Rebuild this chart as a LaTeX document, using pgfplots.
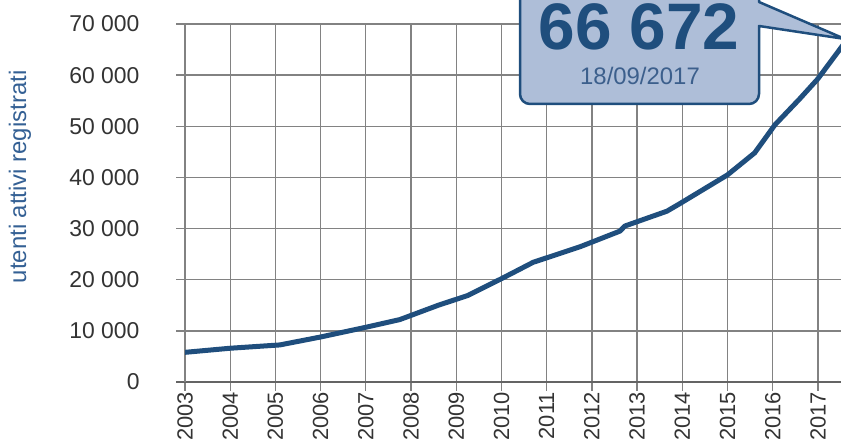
\documentclass[border=0pt]{standalone}
\usepackage{pgfplots}
\pgfplotsset{compat=1.18}
\usepackage{fontspec}
\setmainfont{Liberation Sans}
\definecolor{lineblue}{RGB}{31,78,125}
\definecolor{boxfill}{RGB}{174,190,216}
\definecolor{subblue}{RGB}{60,95,140}
\definecolor{labelblue}{RGB}{52,96,148}
\definecolor{tickgray}{RGB}{51,51,51}
\definecolor{gridgray}{RGB}{130,130,130}
\definecolor{axisgray}{RGB}{100,100,100}
\begin{document}
\begin{tikzpicture}[x=1bp,y=1bp]
\useasboundingbox (0,0) rectangle (841,443);
\clip (0,0) rectangle (841,443);
\begin{axis}[
  at={(185bp,61bp)}, anchor=south west,
  scale only axis, width=656bp, height=358bp,
  xmin=2003, xmax=2017.51, ymin=0, ymax=70000,
  scaled y ticks=false, scaled x ticks=false,
  axis lines=left, axis line style={-},
  x axis line style={line width=2.5bp, color=axisgray, shorten <=-9bp},
  y axis line style={line width=1.3bp, color=gridgray},
  grid=major, major grid style={line width=1.3bp, color=gridgray},
  tick align=outside, major tick length=9bp,
  tick style={line width=1.3bp, color=gridgray},
  xtick={2003,2004,2005,2006,2007,2008,2009,2010,2011,2012,2013,2014,2015,2016,2017},
  xticklabels={2003,2004,2005,2006,2007,2008,2009,2010,2011,2012,2013,2014,2015,2016,2017},
  ytick={0,10000,20000,30000,40000,50000,60000,70000},
  yticklabels={0,10 000,20 000,30 000,40 000,50 000,60 000,70 000},
  ticklabel style={font=\fontsize{23}{25}\selectfont, text=tickgray},
  xticklabel style={rotate=90, anchor=east, inner sep=1bp, font=\fontsize{22}{24}\selectfont},
  yticklabel style={anchor=east, xshift=-33bp},
  ylabel={utenti attivi registrati},
  every axis y label/.style={at={(axis description cs:-0.2515,0.573)}, rotate=90, anchor=center},
  ylabel style={font=\fontsize{24}{26}\selectfont, text=labelblue},
  clip=true,
]
\addplot[lineblue, line width=5bp, line join=round] coordinates {
(2003.0, 5800)
(2004.0, 6600)
(2005.1, 7250)
(2006.0, 8800)
(2007.0, 10700)
(2007.75, 12200)
(2008.6, 15000)
(2009.25, 16900)
(2010.0, 20200)
(2010.7, 23400)
(2011.74, 26450)
(2012.62, 29500)
(2012.73, 30500)
(2013.66, 33400)
(2013.95, 34900)
(2015.0, 40500)
(2015.6, 44800)
(2016.05, 50300)
(2016.6, 55400)
(2017.0, 59300)
(2017.62, 66672)
};
\end{axis}
\filldraw[fill=boxfill, draw=lineblue, line width=2.5bp, line join=round]
  (520,460) -- (520,349) arc[start angle=180, end angle=270, radius=10]
  -- (749,339) arc[start angle=270, end angle=360, radius=10]
  -- (759,417) -- (845,404) -- (759,441) -- (759,460) -- cycle;
\node[anchor=base, inner sep=0, text height=0.72em, text depth=0pt, text=lineblue, font=\fontsize{66}{70}\selectfont\bfseries] at (639,393) {66 672};
\node[anchor=base, inner sep=0, text=subblue, font=\fontsize{24}{26}\selectfont] at (640,358) {18/09/2017};
\end{tikzpicture}
\end{document}
